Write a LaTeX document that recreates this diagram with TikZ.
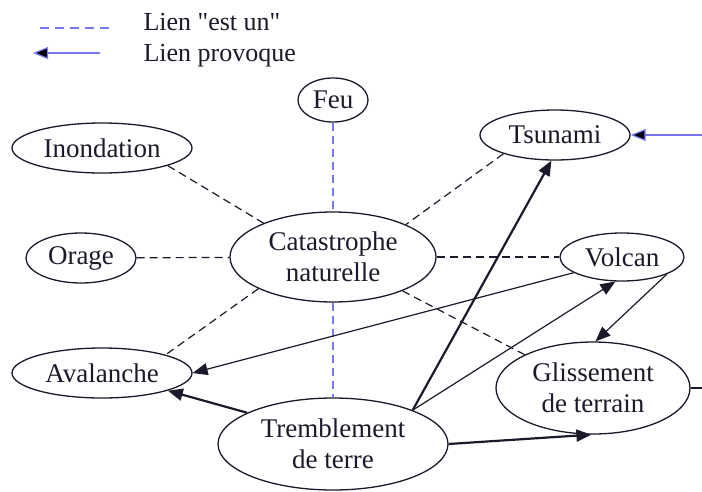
\documentclass[tikz,border=0pt]{standalone}
\usepackage{fontspec}
\setmainfont{Liberation Serif}[Ligatures=TeXOff]
\usetikzlibrary{shapes.geometric,arrows.meta}
\definecolor{linkblue}{HTML}{7878F0}
\definecolor{inkdark}{HTML}{1A1A2A}
\begin{document}
\begin{tikzpicture}[x=1pt,y=-1pt,
  concept/.style={ellipse,draw=inkdark,line width=1.3pt,inner sep=0pt,
    text=inkdark,align=center,font=\fontsize{27}{31}\selectfont},
  isa/.style={dashed,dash pattern=on 8pt off 5pt,line width=1.2pt,draw=inkdark},
  isablue/.style={isa,draw=linkblue},
  cause/.style={-{Triangle[length=15pt,width=12pt]},line width=1.2pt,draw=inkdark},
  causebold/.style={cause,line width=2.2pt},
  legendtext/.style={anchor=base west,text=inkdark,font=\fontsize{26}{29}\selectfont}]
\useasboundingbox (0,0) rectangle (702,491);

% legend
\coordinate (la) at (40,28);
\coordinate (lb) at (114,28);
\coordinate (lc) at (33,53);
\coordinate (ld) at (100,53);
\draw[isablue,dash pattern=on 9pt off 6pt] (la) -- (lb);
\draw[cause,draw=linkblue,{Triangle[length=15pt,width=12pt,fill=black]}-] (lc) -- (ld);
\node[legendtext] (lt1) at (140,30) {Lien "est un"};
\node[legendtext] (lt2) at (140,61) {Lien provoque};

% concepts
\node[concept,minimum width=206pt,minimum height=90pt] (cat) at (333,257) {Catastrophe\\naturelle};
\node[concept,minimum width=70pt,minimum height=44pt] (feu) at (333,100) {Feu};
\node[concept,minimum width=180pt,minimum height=50pt] (inon) at (102,148) {Inondation};
\node[concept,minimum width=110pt,minimum height=50pt] (orage) at (81,258) {Orage};
\node[concept,minimum width=150pt,minimum height=50pt] (tsu) at (555,135) {Tsunami};
\node[concept,minimum width=124pt,minimum height=48pt] (volc) at (622,257) {Volcan};
\node[concept,minimum width=180pt,minimum height=50pt] (aval) at (102,373) {Avalanche};
\node[concept,minimum width=194pt,minimum height=92pt] (gliss) at (593,388) {Glissement\\de terrain};
\node[concept,minimum width=230pt,minimum height=92pt] (trem) at (333,444) {Tremblement\\de terre};

% "est un" links
\draw[isablue] (feu.south) -- (cat.north);
\draw[isablue] (cat.south) -- (trem.north);
\draw[isa] (inon.-15.6) -- (cat.154);
\draw[isa] (orage) -- (cat);
\draw[isa] (tsu.-160) -- (cat.24.4);
\draw[isa] (cat) -- (volc);
\draw[isa] (cat.-157.5) -- (aval.16.9);
\draw[isa] (cat.-26.3) -- (gliss.154.8);

% "provoque" links
\coordinate (tsuin) at (702,135);
\coordinate (glissout) at (702,388);
\draw[cause,draw=linkblue,-{Triangle[length=15pt,width=12pt,fill=black]}] (tsuin) -- (tsu.east);
\draw[line width=1.2pt,draw=inkdark] (gliss.east) -- (glissout);
\draw[causebold] (trem.23.4) -- (tsu.-98);
\draw[cause] (trem.23) -- (volc.-105);
\draw[cause] (volc.-162) -- (aval.east);
\draw[cause] (volc.-21.8) -- (gliss.87);
\draw[causebold] (trem.160) -- (aval.-15.6);
\draw[causebold] (trem.east) -- (gliss.-92);
\end{tikzpicture}
\end{document}
